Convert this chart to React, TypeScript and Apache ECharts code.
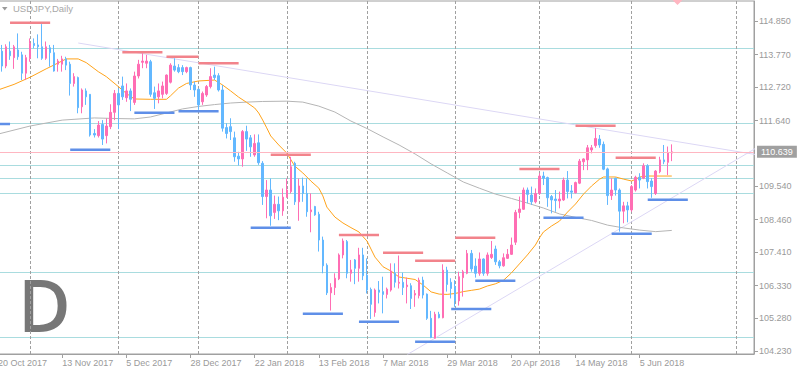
import React, { useEffect, useRef } from "react";
import * as echarts from "echarts";

// ---------- data ----------
const HOLIDAYS = ["2017-12-25", "2018-01-01"];
const SLOT_COUNT = 189;
const MONTHS = ["Jan", "Feb", "Mar", "Apr", "May", "Jun", "Jul", "Aug", "Sep", "Oct", "Nov", "Dec"];

// candles: [open, close, low, high], daily from 20 Oct 2017
const candles: [number, number, number, number][] = [
  [112.55, 113.5, 112.45, 113.57],
  [113.88, 113.4, 113.22, 114.08],
  [113.4, 114.02, 113.33, 114.1],
  [113.88, 113.73, 113.6, 114.19],
  [113.67, 114.02, 113.31, 114.08],
  [113.92, 113.7, 113.6, 114.45],
  [113.76, 113.17, 112.95, 113.86],
  [113.17, 113.67, 112.95, 113.76],
  [113.65, 114.13, 113.54, 114.29],
  [114.13, 114.06, 113.97, 114.29],
  [114.08, 114.02, 113.65, 114.42],
  [114.02, 113.65, 113.6, 114.75],
  [113.65, 114.02, 113.6, 114.19],
  [113.99, 113.83, 113.38, 114.08],
  [113.83, 113.24, 113.22, 114.08],
  [113.46, 113.56, 113.22, 113.63],
  [113.46, 113.63, 113.22, 113.73],
  [113.63, 113.43, 113.27, 113.7],
  [113.46, 112.84, 112.45, 113.54],
  [112.84, 113.06, 112.74, 113.17],
  [113.03, 112.06, 111.88, 113.06],
  [112.09, 112.63, 111.88, 112.68],
  [112.6, 112.41, 112.15, 112.68],
  [112.49, 111.18, 111.13, 112.49],
  [111.23, 111.18, 111.1, 111.37],
  [111.16, 111.5, 111.1, 111.63],
  [111.52, 111.05, 110.86, 111.66],
  [111.16, 111.47, 110.91, 111.72],
  [111.45, 111.91, 111.37, 112.17],
  [111.91, 112.52, 111.66, 112.63],
  [112.52, 112.15, 111.37, 112.68],
  [112.76, 112.41, 112.31, 113.06],
  [112.38, 112.6, 112.25, 112.84],
  [112.6, 112.33, 111.95, 112.68],
  [112.23, 113.08, 112.15, 113.22],
  [113.08, 113.46, 113.0, 113.6],
  [113.52, 113.56, 113.33, 113.81],
  [113.49, 113.56, 113.33, 113.76],
  [113.54, 112.49, 112.41, 113.6],
  [112.54, 112.36, 112.02, 112.74],
  [112.41, 112.6, 112.2, 112.84],
  [112.49, 112.76, 112.36, 112.9],
  [112.52, 113.11, 112.47, 113.13],
  [112.88, 113.43, 112.84, 113.49],
  [113.4, 113.27, 113.22, 113.65],
  [113.35, 113.22, 113.17, 113.46],
  [113.35, 113.22, 113.11, 113.43],
  [113.22, 113.35, 113.17, 113.38],
  [113.35, 112.79, 112.63, 113.38],
  [112.79, 112.63, 112.41, 112.9],
  [112.65, 112.15, 111.99, 112.68],
  [112.25, 112.52, 112.15, 112.58],
  [112.47, 112.74, 112.41, 112.79],
  [112.74, 113.06, 112.68, 113.33],
  [113.11, 113.03, 112.95, 113.38],
  [113.09, 112.63, 112.58, 113.17],
  [112.63, 111.4, 111.29, 112.79],
  [111.42, 111.23, 111.07, 111.56],
  [111.45, 111.29, 111.02, 111.72],
  [111.09, 110.48, 110.32, 111.29],
  [110.5, 110.41, 110.2, 110.64],
  [110.41, 111.29, 110.16, 111.34],
  [111.29, 111.05, 110.67, 111.48],
  [111.09, 110.8, 110.48, 111.18],
  [110.54, 110.91, 110.48, 111.2],
  [110.93, 110.29, 110.22, 111.2],
  [110.27, 109.2, 108.93, 110.34],
  [109.2, 109.41, 108.5, 109.73],
  [109.41, 108.58, 108.26, 109.78],
  [108.69, 108.95, 108.48, 109.23],
  [108.95, 108.74, 108.44, 109.2],
  [108.74, 109.18, 108.58, 109.46],
  [109.18, 109.41, 109.16, 109.78],
  [109.36, 110.16, 109.3, 110.48],
  [110.27, 109.03, 108.93, 110.32],
  [109.03, 109.54, 108.42, 109.78],
  [109.54, 109.3, 109.03, 109.81],
  [109.3, 108.71, 108.55, 109.78],
  [108.71, 108.77, 108.05, 109.3],
  [108.88, 108.61, 108.58, 108.9],
  [108.63, 107.8, 107.43, 108.71],
  [107.8, 106.97, 106.73, 107.91],
  [106.99, 106.1, 106.03, 107.05],
  [106.1, 106.27, 105.53, 106.41],
  [106.27, 106.57, 106.03, 106.73],
  [106.55, 107.32, 106.51, 107.37],
  [107.32, 107.77, 107.21, 107.85],
  [107.75, 106.73, 106.57, 107.8],
  [106.73, 106.84, 106.46, 107.16],
  [107.16, 106.89, 106.38, 107.19],
  [106.89, 107.32, 106.46, 107.55],
  [107.32, 106.65, 106.51, 107.55],
  [106.67, 106.19, 106.08, 107.21],
  [106.21, 105.73, 105.26, 106.27],
  [105.47, 106.19, 105.33, 106.24],
  [106.19, 106.12, 105.76, 106.48],
  [106.14, 106.05, 105.44, 106.62],
  [106.05, 106.22, 105.92, 106.27],
  [106.19, 106.8, 106.14, 107.05],
  [106.73, 106.44, 106.27, 107.05],
  [106.41, 106.44, 106.24, 107.3],
  [106.44, 106.27, 106.03, 106.75],
  [106.3, 106.35, 105.76, 106.59],
  [106.33, 105.92, 105.58, 106.41],
  [106.03, 106.08, 105.65, 106.19],
  [106.01, 106.51, 105.92, 106.59],
  [106.51, 106.03, 105.92, 106.62],
  [106.06, 105.28, 105.23, 106.08],
  [105.28, 104.66, 104.64, 105.52],
  [104.64, 105.41, 104.63, 105.49],
  [105.41, 105.3, 105.28, 105.49],
  [105.3, 106.83, 105.28, 107.02],
  [106.83, 106.37, 106.14, 106.94],
  [106.44, 106.24, 105.92, 106.57],
  [106.3, 105.84, 105.65, 106.51],
  [105.84, 106.62, 105.69, 106.78],
  [106.59, 106.78, 105.98, 106.84],
  [106.73, 107.37, 106.7, 107.48],
  [107.37, 106.87, 106.78, 107.48],
  [106.96, 106.73, 106.59, 107.21],
  [106.73, 107.19, 106.65, 107.4],
  [107.19, 106.73, 106.65, 107.21],
  [106.73, 107.32, 106.65, 107.4],
  [107.24, 107.34, 107.19, 107.77],
  [107.51, 107.1, 107.0, 107.62],
  [107.1, 106.97, 106.89, 107.16],
  [106.97, 107.23, 106.94, 107.37],
  [107.21, 107.34, 107.19, 107.51],
  [107.34, 107.64, 107.32, 107.88],
  [107.73, 108.69, 107.64, 108.77],
  [108.69, 108.8, 108.5, 109.2],
  [108.79, 109.41, 108.77, 109.49],
  [109.41, 109.27, 108.98, 109.49],
  [109.25, 109.03, 108.93, 109.52],
  [109.03, 109.3, 108.98, 109.46],
  [109.3, 109.86, 109.25, 109.95],
  [109.86, 109.79, 109.57, 110.0],
  [109.81, 109.16, 108.87, 109.84],
  [109.2, 109.09, 108.66, 109.25],
  [109.12, 109.07, 108.71, 109.41],
  [109.06, 109.12, 108.82, 109.36],
  [109.09, 109.73, 109.06, 109.81],
  [109.73, 109.36, 109.14, 110.02],
  [109.38, 109.34, 109.14, 109.57],
  [109.32, 109.65, 109.3, 109.68],
  [109.63, 110.34, 109.6, 110.41],
  [110.32, 110.41, 110.05, 110.43],
  [110.38, 110.77, 110.05, 110.86],
  [110.7, 110.77, 110.59, 110.86],
  [110.84, 111.07, 110.77, 111.4],
  [111.05, 110.86, 110.77, 111.18],
  [110.88, 110.08, 110.05, 110.97],
  [110.09, 109.23, 108.93, 110.13],
  [109.23, 109.41, 109.09, 109.79],
  [109.79, 109.41, 109.23, 109.81],
  [109.41, 108.73, 108.07, 109.46],
  [108.73, 108.9, 108.34, 109.03],
  [108.9, 108.77, 108.37, 109.03],
  [108.77, 109.52, 108.71, 109.57],
  [109.41, 109.82, 109.36, 109.87],
  [109.82, 109.73, 109.46, 109.95],
  [109.79, 110.19, 109.76, 110.27],
  [110.19, 109.68, 109.46, 110.24],
  [109.7, 109.52, 109.16, 109.79],
  [109.3, 110.02, 109.25, 110.05],
  [110.0, 110.38, 109.95, 110.48],
  [110.38, 110.32, 110.24, 110.86],
  [110.3, 110.62, 109.89, 110.81],
  [110.6, 110.639, 110.34, 110.88],
];

// orange moving average: [bar index, price]
const maFast: [number, number][] = [
  [0, 112.63], [4, 112.81], [8, 113.04], [12, 113.31], [15, 113.5], [17, 113.63], [20, 113.63],
  [22, 113.51], [25, 113.22], [27, 113.06], [30, 112.74], [32, 112.52], [34, 112.34], [38, 112.33],
  [42, 112.33], [43, 112.44], [45, 112.69], [47, 112.84], [50, 112.92], [54, 112.95], [56, 112.79],
  [58, 112.6], [60, 112.4], [62, 112.23], [64, 112.05], [65, 111.89], [66, 111.66], [67, 111.41],
  [68, 111.15], [70, 110.86], [72, 110.6], [74, 110.18], [76, 109.96], [78, 109.7], [80, 109.47],
  [81, 109.22], [82, 108.86], [84, 108.54], [86, 108.35], [88, 108.2], [90, 108.06], [91, 107.91],
  [92, 107.77], [93, 107.51], [94, 107.25], [96, 106.94], [98, 106.8], [100, 106.61], [102, 106.57],
  [104, 106.53], [106, 106.35], [108, 106.13], [110, 106.06], [112, 106.05], [114, 106.08],
  [116, 106.14], [118, 106.18], [120, 106.22], [122, 106.32], [124, 106.39], [126, 106.5],
  [128, 106.74], [130, 107.03], [132, 107.32], [134, 107.64], [135, 107.87], [136, 108.06],
  [138, 108.25], [140, 108.41], [142, 108.7], [144, 108.96], [146, 109.28], [148, 109.54],
  [150, 109.76], [151, 109.83], [154, 109.83], [156, 109.76], [158, 109.7], [159, 109.76],
  [160, 109.83], [162, 109.86], [168, 109.86],
];

// grey moving average: [bar index, price]
const maSlow: [number, number][] = [
  [0, 111.21], [8, 111.47], [16, 111.66], [24, 111.73], [30, 111.71], [34, 111.7], [38, 111.76],
  [42, 111.89], [46, 112.02], [50, 112.1], [54, 112.16], [58, 112.21], [62, 112.24], [66, 112.26],
  [72, 112.27], [76, 112.24], [80, 112.11], [84, 111.92], [88, 111.63], [92, 111.39], [96, 111.12],
  [100, 110.86], [104, 110.57], [108, 110.25], [112, 109.96], [116, 109.67], [120, 109.47],
  [124, 109.28], [128, 109.14], [132, 108.99], [136, 108.83], [140, 108.64], [144, 108.53],
  [148, 108.43], [152, 108.28], [156, 108.19], [160, 108.12], [164, 108.07], [168, 108.11],
];

// resistance / support segments: [start bar, end bar, price]
const resistanceSegs: [number, number, number][] = [
  [2.75, 13.25, 114.795], [30.75, 41.25, 113.843], [42, 50.25, 113.701], [49.75, 60.25, 113.489],
  [67.75, 78.25, 110.547], [84.75, 95.25, 107.962], [95.75, 106.25, 107.393], [103.75, 114.25, 107.135],
  [113.75, 124.25, 107.875], [129.75, 140.25, 110.087], [143.75, 154.25, 111.48], [153.75, 164.25, 110.45],
];
const supportSegs: [number, number, number][] = [
  [-2, 3.25, 111.535], [17.75, 28.25, 110.708], [33.75, 44.25, 111.899], [44.75, 55.25, 111.944],
  [62.75, 73.25, 108.197], [75.75, 86.25, 105.429], [89.75, 100.25, 105.172], [103.75, 114.25, 104.528],
  [112.75, 123.25, 105.58], [118.75, 129.25, 106.49], [135.75, 146.25, 108.519], [152.75, 163.25, 108.004],
  [161.75, 172.25, 109.098],
];

// trend lines: [[bar, price], [bar, price]]
const trendDown: [number, number][] = [[20, 114.142], [188.5, 110.55]];
const trendUp: [number, number][] = [[102, 104.11], [188.5, 110.76]];

const levelLines = [113.97, 111.557, 110.206, 109.787, 109.305, 106.762, 104.67];
const monthSeparators = [8, 30, 50, 72, 92, 114, 135, 158, 184];
const yTickValues = [104.23, 105.28, 106.33, 107.41, 108.46, 109.54, 111.64, 112.72, 113.77, 114.85];
const LAST_PRICE = 110.639;
const Y_MIN = 104.132;
const Y_MAX = 115.494;
const LABEL_STEP = 16;
const LAST_LABEL = 160;

// ---------- style ----------
const PINK = "#ff6eb4";
const BLUE = "#63b8ff";
const RED_SEG = "#f2838b";
const BLUE_SEG = "#5f8fe8";
const CYAN = "#a9dcdf";
const GREY = "#a0a0a0";
const LAVENDER = "#dcd7f5";
const FONT = "Liberation Sans";

function buildCategories(): string[] {
  const out: string[] = [];
  const d = new Date(Date.UTC(2017, 9, 20));
  while (out.length < SLOT_COUNT) {
    const dow = d.getUTCDay();
    const iso = d.toISOString().slice(0, 10);
    if (dow !== 0 && dow !== 6 && !HOLIDAYS.includes(iso)) {
      out.push(`${d.getUTCDate()} ${MONTHS[d.getUTCMonth()]} ${d.getUTCFullYear()}`);
    }
    d.setUTCDate(d.getUTCDate() + 1);
  }
  return out;
}

export default function App() {
  const ref = useRef<HTMLDivElement>(null);

  useEffect(() => {
    if (!ref.current) return;
    const chart = echarts.init(ref.current, undefined, { renderer: "svg" });
    const categories = buildCategories();
    const labelInterval = (index: number) => index % LABEL_STEP === 0 && index <= LAST_LABEL;

    const segSeries = (segs: [number, number, number][], color: string) =>
      segs.map(([a, b, p]) => ({
        type: "line",
        data: [[a, p], [b, p]],
        showSymbol: false,
        symbol: "none",
        silent: true,
        z: 4,
        lineStyle: { color, width: 2.5 },
      }));

    const option: any = {
      animation: false,
      backgroundColor: "#ffffff",
      textStyle: { fontFamily: FONT },
      grid: {
        left: -4,
        right: 43,
        top: 1,
        bottom: 21,
        show: true,
        borderColor: GREY,
        borderWidth: 1,
        containLabel: false,
        outerBoundsMode: "none",
      },
      xAxis: {
        type: "category",
        data: categories,
        boundaryGap: true,
        axisLine: { show: true, lineStyle: { color: GREY, width: 1 } },
        axisTick: {
          show: true,
          alignWithLabel: true,
          interval: labelInterval,
          length: 4,
          lineStyle: { color: GREY },
        },
        axisLabel: {
          interval: labelInterval,
          align: "left",
          color: "#9a9a9a",
          fontSize: 9,
          fontFamily: FONT,
          margin: 4,
        },
        splitLine: { show: false },
      },
      yAxis: {
        type: "value",
        position: "right",
        min: Y_MIN,
        max: Y_MAX,
        axisLine: { show: true, lineStyle: { color: GREY, width: 1 } },
        axisTick: { show: true, length: 4, customValues: yTickValues, lineStyle: { color: GREY } },
        axisLabel: {
          customValues: yTickValues,
          formatter: (v: number) => v.toFixed(3),
          color: "#9a9a9a",
          fontSize: 9,
          fontFamily: FONT,
          margin: 5,
        },
        splitLine: { show: false },
      },
      graphic: [
        {
          type: "polygon",
          shape: { points: [[2, 7], [7.5, 7], [4.75, 10.5]] },
          style: { fill: "#9a9a9a" },
          silent: true,
        },
        {
          type: "text",
          x: 13,
          y: 8.5,
          style: {
            text: "USDJPY,Daily",
            fill: "#a8a8a8",
            font: `9.5px "${FONT}"`,
            textVerticalAlign: "middle",
          },
          silent: true,
        },
        {
          type: "text",
          x: 18,
          y: 304,
          style: {
            text: "D",
            fill: "#777777",
            font: '600 72px "Open Sans"',
            textVerticalAlign: "middle",
          },
          silent: true,
        },
        {
          type: "polygon",
          shape: { points: [[672.5, 0], [682.5, 0], [677.5, 5]] },
          style: { fill: "#ffb6c1" },
          silent: true,
        },
      ],
      series: [
        {
          type: "line",
          data: [],
          silent: true,
          z: 1,
          markLine: {
            silent: true,
            symbol: "none",
            z: 1,
            label: { show: false },
            data: [
              ...levelLines.map((p) => ({
                yAxis: p,
                lineStyle: { color: CYAN, width: 1, type: "solid" },
              })),
              ...monthSeparators.map((i) => ({
                xAxis: i,
                lineStyle: { color: GREY, width: 1, type: [3, 2] },
              })),
            ],
          },
        },
        {
          type: "line",
          data: trendDown,
          showSymbol: false,
          symbol: "none",
          silent: true,
          z: 2,
          lineStyle: { color: LAVENDER, width: 1 },
        },
        {
          type: "line",
          data: trendUp,
          showSymbol: false,
          symbol: "none",
          silent: true,
          z: 2,
          lineStyle: { color: LAVENDER, width: 1 },
        },
        {
          type: "line",
          data: maSlow,
          showSymbol: false,
          symbol: "none",
          silent: true,
          z: 2,
          lineStyle: { color: "#b5b5b5", width: 1 },
        },
        {
          type: "line",
          data: maFast,
          showSymbol: false,
          symbol: "none",
          silent: true,
          z: 2,
          lineStyle: { color: "#ffa31a", width: 1 },
        },
        {
          type: "candlestick",
          data: candles,
          barWidth: 2,
          silent: true,
          z: 3,
          itemStyle: {
            color: PINK,
            color0: BLUE,
            borderColor: PINK,
            borderColor0: BLUE,
            borderWidth: 1,
          },
          markLine: {
            silent: true,
            symbol: "none",
            z: 4,
            data: [
              {
                yAxis: LAST_PRICE,
                lineStyle: { color: "#ffb6c1", width: 1, type: "solid" },
                label: {
                  show: true,
                  position: "end",
                  distance: 3,
                  formatter: LAST_PRICE.toFixed(3),
                  color: "#ffffff",
                  backgroundColor: GREY,
                  padding: [2, 4, 1, 4],
                  fontSize: 9,
                  fontFamily: FONT,
                },
              },
            ],
          },
        },
        ...segSeries(resistanceSegs, RED_SEG),
        ...segSeries(supportSegs, BLUE_SEG),
      ],
    };

    chart.setOption(option);
    return () => chart.dispose();
  }, []);

  return (
    <div
      ref={ref}
      style={{ position: "absolute", left: 0, top: 0, width: 797, height: 375, background: "#fff" }}
    />
  );
}
